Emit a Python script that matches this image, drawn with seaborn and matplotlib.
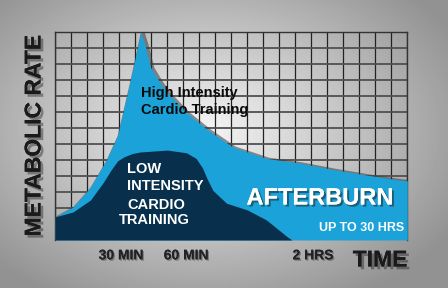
import numpy as np
import matplotlib
matplotlib.use("Agg")
import matplotlib.pyplot as plt
import matplotlib.patheffects as pe
import seaborn as sns
import pandas as pd

# ---- data (x in grid columns, y in grid rows) ----
high_x = [0, 1.1, 2.2, 3.2, 3.9, 4.7, 5.35, 5.6, 5.95, 6.5, 7.0, 8.2, 9.5, 11.1, 13.2, 15.3, 17.4, 19.5, 21.5, 22]
high_y = [1.45, 2.05, 3.3, 5.0, 6.55, 10.0, 13.0, 12.2, 10.8, 9.9, 9.2, 7.95, 6.9, 5.8, 5.1, 4.8, 4.4, 4.05, 3.75, 3.7]
low_x = [0, 1.1, 2.2, 3.0, 3.5, 3.9, 4.3, 4.8, 5.3, 7.0, 8.2, 8.8, 9.2, 9.5, 9.85, 10.7, 12.0, 13.2, 14.5, 14.8]
low_y = [1.45, 1.75, 2.5, 3.6, 4.4, 4.95, 5.2, 5.4, 5.5, 5.62, 5.45, 5.1, 4.5, 3.8, 3.1, 2.3, 1.88, 1.25, 0.2, 0.0]
tick_pos = [4.1, 8.17, 16.1]
tick_labels = ["30 MIN", "60 MIN", "2 HRS"]

high = pd.DataFrame({"x": high_x, "y": high_y})
low = pd.DataFrame({"x": low_x, "y": low_y})

sns.set_theme(style="white")
plt.rcParams["font.family"] = ["Liberation Sans", "DejaVu Sans"]

W, H = 448, 288
fig = plt.figure(figsize=(W / 100, H / 100), dpi=100)

# background radial gradient
bg = fig.add_axes([0, 0, 1, 1])
yy, xx = np.mgrid[0:H, 0:W]
r = np.sqrt(((xx - 205) / 230.0) ** 2 + ((yy - 130) / 155.0) ** 2)
val = 0.96 - 0.31 * np.clip(r, 0, 1.25)
bg.imshow(val, cmap="gray", vmin=0, vmax=1, aspect="auto", extent=[0, W, H, 0])
bg.set_axis_off()

ax = fig.add_axes([55.3 / W, 1 - 240 / H, (407.3 - 55.3) / W, (240 - 32) / H])
ax.set_facecolor("none")
ax.set_xlim(0, 22)
ax.set_ylim(0, 13)

ax.set_xticks(np.arange(0, 23), minor=True)
ax.set_yticks(np.arange(0, 14), minor=True)
ax.set_yticks([])
ax.set_xticks(tick_pos)
ax.set_xticklabels(tick_labels)
ax.grid(False)
ax.grid(which="minor", axis="x", color="#222222", lw=0.9)
ax.grid(which="minor", axis="y", color="#505050", lw=1.3)
ax.tick_params(which="both", length=0)
ax.tick_params(axis="x", pad=6)
for lab in ax.get_xticklabels():
    lab.set_fontsize(10)
    lab.set_fontweight("bold")
    lab.set_color("#222222")
    lab.set_path_effects([pe.withSimplePatchShadow(offset=(1, -1), shadow_rgbFace="k", alpha=0.35), pe.Normal()])
for s in ["left", "top", "right"]:
    ax.spines[s].set_color("#333333")
    ax.spines[s].set_linewidth(1.0)
ax.spines["bottom"].set_visible(False)
ax.set_axisbelow(True)

# shadow of the high-intensity curve
sns.lineplot(data=high, x=np.array(high_x) + 0.12, y=np.array(high_y) - 0.08, ax=ax,
             color="#3a3a3a", lw=3, alpha=0.55, zorder=2, sort=False)
ax.fill_between(high["x"], 0, high["y"], color="#1ba3d9", lw=0, zorder=3)
ax.fill_between(low["x"], 0, low["y"], color="#08304c", lw=0, zorder=4)
ax.set_xlabel("")
ax.set_ylabel("")
leg = ax.get_legend()
if leg:
    leg.remove()

shadow = [pe.withSimplePatchShadow(offset=(2, -2), shadow_rgbFace="k", alpha=0.4), pe.Normal()]

def ftext(x, y, s, **kw):
    fig.text(x / W, 1 - y / H, s, **kw)

ftext(34, 136, "METABOLIC RATE", rotation=90, ha="center", va="center", fontsize=16.5,
      fontweight="bold", color="#1a1a1a", path_effects=shadow)
ftext(380, 260, "TIME", ha="center", va="center", fontsize=16.5, fontweight="bold",
      color="#1a1a1a", path_effects=shadow)

ftext(141, 93, "High Intensity", ha="left", va="center", fontsize=10.5, fontweight="bold", color="#0a0a0a")
ftext(141, 110, "Cardio Training", ha="left", va="center", fontsize=10.5, fontweight="bold", color="#0a0a0a")

for (xx_, yy_, s) in [(127, 169, "LOW"), (127, 186, "INTENSITY"), (127, 205, "CARDIO"), (119, 220, "TRAINING")]:
    ftext(xx_, yy_, s, ha="left", va="center", fontsize=10.5, fontweight="bold", color="white")

ftext(320, 198, "AFTERBURN", ha="center", va="center", fontsize=17, fontweight="bold", color="white",
      path_effects=[pe.withSimplePatchShadow(offset=(1.5, -1.5), shadow_rgbFace="k", alpha=0.5), pe.Normal()])
ftext(362, 228, "UP TO 30 HRS", ha="center", va="center", fontsize=9, fontweight="bold", color="white")

fig.savefig("out.png", dpi=100)
